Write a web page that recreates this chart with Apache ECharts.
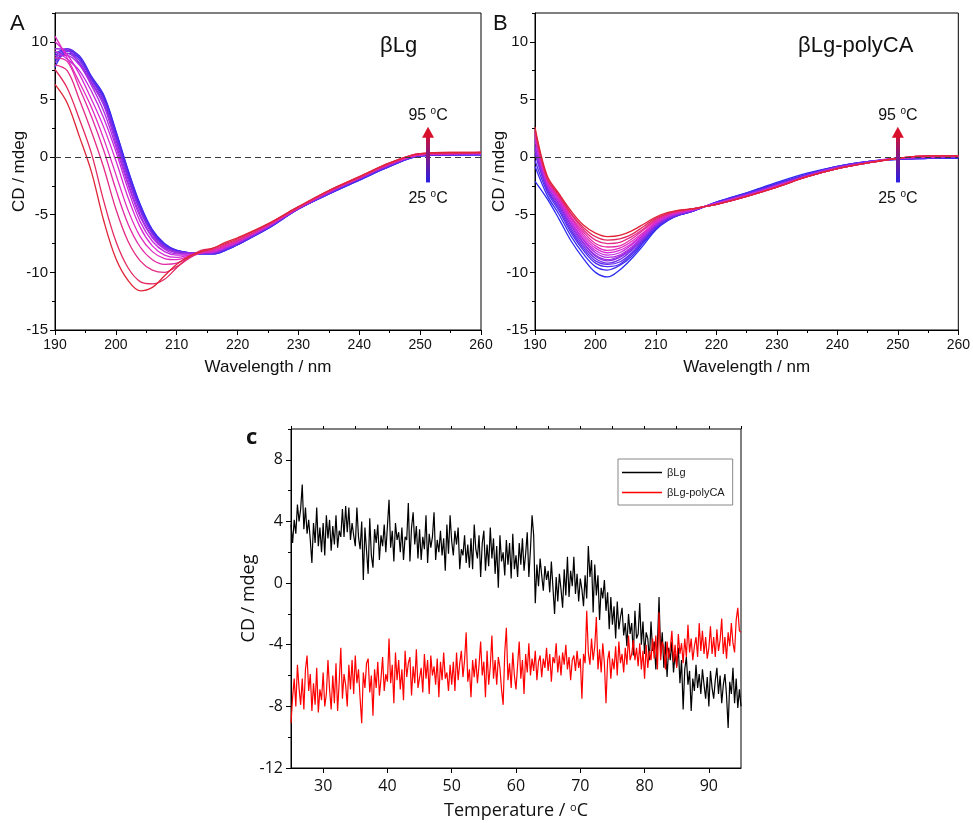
<!DOCTYPE html>
<html>
<head>
<meta charset="utf-8">
<script src="https://cdn.jsdelivr.net/npm/echarts@6/dist/echarts.min.js"></script>
<style>
html,body{margin:0;padding:0;background:#fff;}
#chart{width:973px;height:823px;}
</style>
</head>
<body>
<div id="chart"></div>
<script>
// ---------- DATA ----------
const wavelengths = [190,192,194,196,198,200,202,204,206,208,210,212,214,216,218,220,225,230,235,240,245,250,255,260];
const temps = [25,30,35,40,45,50,55,60,65,70,75,80,85,90,95];

// Panel A: βLg spectra, one row per temperature (25 -> 95 °C)
const cdA = [
  [8.4,9.0,8.6,6.8,5.3,2.2,-1.2,-4.2,-6.4,-7.6,-8.1,-8.3,-8.4,-8.4,-8.1,-7.6,-6.2,-4.5,-3.2,-2.0,-0.8,0.1,0.2,0.2],
  [7.8,9.2,8.8,7.0,5.4,2.3,-1.1,-4.1,-6.3,-7.5,-8.1,-8.3,-8.4,-8.4,-8.1,-7.6,-6.2,-4.5,-3.2,-2.0,-0.8,0.1,0.2,0.2],
  [8.8,9.3,8.6,6.9,5.2,2.1,-1.3,-4.3,-6.4,-7.6,-8.1,-8.3,-8.4,-8.4,-8.0,-7.6,-6.1,-4.5,-3.2,-1.9,-0.8,0.1,0.2,0.2],
  [9.0,9.4,8.7,6.8,5.1,1.9,-1.5,-4.4,-6.5,-7.7,-8.2,-8.3,-8.3,-8.3,-8.0,-7.5,-6.1,-4.5,-3.1,-1.9,-0.7,0.1,0.2,0.3],
  [8.6,9.2,8.4,6.7,4.9,1.7,-1.7,-4.6,-6.6,-7.7,-8.2,-8.3,-8.3,-8.3,-8.0,-7.5,-6.1,-4.5,-3.1,-1.9,-0.7,0.2,0.2,0.3],
  [8.2,9.0,8.2,6.5,4.7,1.5,-1.9,-4.7,-6.7,-7.8,-8.2,-8.3,-8.3,-8.3,-7.9,-7.5,-6.1,-4.4,-3.1,-1.9,-0.7,0.2,0.3,0.3],
  [9.4,9.3,8.1,6.4,4.5,1.2,-2.2,-5.0,-6.9,-7.9,-8.3,-8.4,-8.3,-8.3,-7.9,-7.4,-6.0,-4.4,-3.1,-1.8,-0.7,0.2,0.3,0.3],
  [8.8,8.8,8.0,6.2,4.0,0.9,-2.4,-5.2,-7.0,-8.0,-8.4,-8.4,-8.3,-8.2,-7.9,-7.4,-6.0,-4.4,-3.0,-1.8,-0.6,0.2,0.3,0.3],
  [9.2,8.5,7.5,5.7,3.4,0.5,-2.8,-5.6,-7.3,-8.2,-8.5,-8.5,-8.3,-8.2,-7.8,-7.4,-6.0,-4.4,-3.0,-1.8,-0.6,0.2,0.3,0.3],
  [10.0,8.9,7.2,5.0,2.6,-0.3,-3.5,-6.1,-7.7,-8.5,-8.7,-8.5,-8.3,-8.2,-7.8,-7.3,-6.0,-4.4,-3.0,-1.8,-0.6,0.2,0.3,0.3],
  [10.5,8.6,6.5,4.3,1.6,-1.5,-4.6,-6.9,-8.2,-8.8,-8.9,-8.6,-8.3,-8.1,-7.7,-7.3,-5.9,-4.4,-3.0,-1.8,-0.6,0.2,0.3,0.4],
  [8.6,8.3,6.0,3.5,0.6,-2.8,-5.8,-7.8,-8.9,-9.3,-9.2,-8.7,-8.3,-8.1,-7.7,-7.3,-5.9,-4.4,-3.0,-1.8,-0.6,0.2,0.3,0.4],
  [8.0,7.5,5.0,2.2,-0.9,-4.5,-7.3,-9.0,-9.8,-10.0,-9.5,-8.8,-8.2,-8.0,-7.6,-7.2,-5.9,-4.4,-3.0,-1.8,-0.6,0.3,0.3,0.4],
  [7.6,6.0,3.3,0.3,-3.8,-7.3,-9.6,-10.8,-11.0,-10.6,-9.6,-8.7,-8.1,-7.9,-7.5,-7.1,-5.8,-4.3,-2.9,-1.7,-0.5,0.3,0.4,0.4],
  [6.3,4.7,1.8,-1.3,-5.5,-8.8,-10.7,-11.6,-11.3,-10.3,-9.3,-8.6,-8.2,-7.9,-7.4,-7.0,-5.8,-4.3,-2.9,-1.7,-0.5,0.3,0.4,0.4]
];

// Panel B: βLg-polyCA spectra, one row per temperature (25 -> 95 °C)
const cdB = [
  [-2.1,-3.6,-5.4,-7.3,-8.8,-10.0,-10.4,-9.8,-8.8,-7.6,-6.3,-5.5,-5.0,-4.7,-4.3,-3.9,-3.1,-2.2,-1.4,-0.8,-0.4,-0.2,-0.1,-0.1],
  [-0.8,-3.3,-5.0,-6.9,-8.4,-9.5,-9.8,-9.4,-8.6,-7.4,-6.2,-5.4,-5.0,-4.7,-4.3,-3.9,-3.1,-2.3,-1.5,-0.8,-0.4,-0.2,-0.1,-0.1],
  [-0.3,-3.0,-4.7,-6.6,-8.1,-9.2,-9.5,-9.3,-8.4,-7.3,-6.1,-5.4,-5.0,-4.7,-4.3,-3.9,-3.2,-2.3,-1.5,-0.8,-0.4,-0.2,-0.1,0.0],
  [0.3,-2.8,-4.5,-6.4,-7.9,-9.0,-9.3,-9.1,-8.3,-7.2,-6.1,-5.4,-5.0,-4.7,-4.3,-4.0,-3.2,-2.4,-1.5,-0.9,-0.4,-0.2,-0.1,0.0],
  [0.6,-2.7,-4.3,-6.2,-7.7,-8.8,-9.2,-8.9,-8.1,-7.1,-6.0,-5.3,-4.9,-4.7,-4.3,-4.0,-3.2,-2.4,-1.6,-0.9,-0.4,-0.1,0.0,0.0],
  [1.0,-2.5,-4.1,-6.0,-7.5,-8.6,-9.0,-8.7,-8.0,-7.0,-5.9,-5.3,-4.9,-4.6,-4.3,-4.0,-3.3,-2.4,-1.6,-0.9,-0.4,-0.1,0.0,0.0],
  [0.7,-2.5,-4.1,-5.9,-7.4,-8.5,-8.9,-8.6,-7.9,-6.9,-5.9,-5.2,-4.9,-4.6,-4.3,-4.0,-3.3,-2.5,-1.6,-0.9,-0.5,-0.1,0.0,0.0],
  [1.4,-2.3,-3.9,-5.7,-7.2,-8.3,-8.7,-8.5,-7.8,-6.8,-5.8,-5.2,-4.8,-4.6,-4.3,-4.0,-3.3,-2.5,-1.6,-0.9,-0.5,-0.1,0.0,0.1],
  [1.6,-2.2,-3.8,-5.6,-7.1,-8.1,-8.5,-8.3,-7.6,-6.7,-5.7,-5.1,-4.8,-4.6,-4.3,-4.0,-3.3,-2.5,-1.7,-1.0,-0.5,-0.1,0.0,0.1],
  [1.9,-2.1,-3.7,-5.4,-6.9,-7.9,-8.3,-8.1,-7.5,-6.6,-5.7,-5.1,-4.8,-4.6,-4.3,-4.1,-3.4,-2.5,-1.7,-1.0,-0.5,-0.1,0.0,0.1],
  [2.0,-2.0,-3.6,-5.3,-6.7,-7.7,-8.1,-7.9,-7.3,-6.5,-5.6,-5.0,-4.7,-4.5,-4.3,-4.1,-3.4,-2.6,-1.7,-1.0,-0.5,-0.1,0.0,0.1],
  [2.2,-1.9,-3.5,-5.2,-6.5,-7.5,-7.8,-7.7,-7.1,-6.3,-5.5,-5.0,-4.7,-4.5,-4.3,-4.1,-3.4,-2.6,-1.7,-1.0,-0.5,-0.1,0.1,0.1],
  [2.3,-1.9,-3.4,-5.0,-6.3,-7.2,-7.5,-7.4,-6.9,-6.2,-5.4,-4.9,-4.7,-4.5,-4.3,-4.1,-3.4,-2.6,-1.7,-1.0,-0.5,-0.1,0.1,0.1],
  [2.4,-1.8,-3.3,-4.9,-6.1,-6.9,-7.2,-7.1,-6.7,-6.0,-5.3,-4.9,-4.6,-4.5,-4.3,-4.1,-3.4,-2.6,-1.7,-1.0,-0.5,-0.1,0.1,0.1],
  [2.6,-1.6,-3.2,-4.7,-5.9,-6.6,-6.9,-6.8,-6.4,-5.8,-5.2,-4.8,-4.6,-4.5,-4.3,-4.1,-3.4,-2.6,-1.7,-1.0,-0.5,-0.1,0.1,0.1]
];

// Panel C: CD signal vs temperature
const temperatureC = [
  25,25.25,25.5,25.75, 26,26.25,26.5,26.75, 27,27.25,27.5,27.75, 28,28.25,28.5,28.75, 29,29.25,29.5,29.75,
  30,30.25,30.5,30.75, 31,31.25,31.5,31.75, 32,32.25,32.5,32.75, 33,33.25,33.5,33.75, 34,34.25,34.5,34.75,
  35,35.25,35.5,35.75, 36,36.25,36.5,36.75, 37,37.25,37.5,37.75, 38,38.25,38.5,38.75, 39,39.25,39.5,39.75,
  40,40.25,40.5,40.75, 41,41.25,41.5,41.75, 42,42.25,42.5,42.75, 43,43.25,43.5,43.75, 44,44.25,44.5,44.75,
  45,45.25,45.5,45.75, 46,46.25,46.5,46.75, 47,47.25,47.5,47.75, 48,48.25,48.5,48.75, 49,49.25,49.5,49.75,
  50,50.25,50.5,50.75, 51,51.25,51.5,51.75, 52,52.25,52.5,52.75, 53,53.25,53.5,53.75, 54,54.25,54.5,54.75,
  55,55.25,55.5,55.75, 56,56.25,56.5,56.75, 57,57.25,57.5,57.75, 58,58.25,58.5,58.75, 59,59.25,59.5,59.75,
  60,60.25,60.5,60.75, 61,61.25,61.5,61.75, 62,62.25,62.5,62.75, 63,63.25,63.5,63.75, 64,64.25,64.5,64.75,
  65,65.25,65.5,65.75, 66,66.25,66.5,66.75, 67,67.25,67.5,67.75, 68,68.25,68.5,68.75, 69,69.25,69.5,69.75,
  70,70.25,70.5,70.75, 71,71.25,71.5,71.75, 72,72.25,72.5,72.75, 73,73.25,73.5,73.75, 74,74.25,74.5,74.75,
  75,75.25,75.5,75.75, 76,76.25,76.5,76.75, 77,77.25,77.5,77.75, 78,78.25,78.5,78.75, 79,79.25,79.5,79.75,
  80,80.25,80.5,80.75, 81,81.25,81.5,81.75, 82,82.25,82.5,82.75, 83,83.25,83.5,83.75, 84,84.25,84.5,84.75,
  85,85.25,85.5,85.75, 86,86.25,86.5,86.75, 87,87.25,87.5,87.75, 88,88.25,88.5,88.75, 89,89.25,89.5,89.75,
  90,90.25,90.5,90.75, 91,91.25,91.5,91.75, 92,92.25,92.5,92.75, 93,93.25,93.5,93.75, 94,94.25,94.5,94.75,
  95
];
const cdBLg = [
  3.8,2.6,4.1,3.2, 5.1,4.0,4.8,6.4, 3.5,4.9,3.2,4.1, 2.8,1.3,3.9,2.6, 4.9,2.4,3.6,2.0,
  3.9,1.8,4.4,2.9, 4.1,2.1,3.7,2.5, 4.4,2.3,3.4,3.0, 4.8,3.0,5.0,3.3, 4.9,2.8,3.9,3.1,
  2.4,4.9,3.0,2.2, 4.0,0.2,3.6,2.1, 0.6,4.2,1.8,1.0, 3.5,2.6,3.8,1.5, 3.1,2.4,3.8,2.0,
  2.1,5.4,2.3,3.4, 1.4,3.9,2.8,3.3, 2.0,3.6,1.5,3.0, 2.8,5.2,1.4,3.6, 4.6,2.5,3.7,1.6,
  3.5,1.5,3.0,2.2, 4.4,1.3,3.2,2.3, 3.0,4.6,1.5,2.8, 2.0,3.4,1.8,2.9, 0.8,3.8,1.9,4.4,
  2.7,1.8,3.4,2.5, 3.6,0.9,2.2,1.8, 3.1,1.3,2.5,1.0, 2.9,0.9,3.8,2.2, 1.6,3.1,0.4,2.6,
  3.4,0.8,2.5,1.1, 3.6,1.6,2.9,0.6, 2.4,-0.3,3.1,1.4, 2.0,0.5,2.8,1.2, 2.6,0.3,3.2,0.9,
  1.8,0.4,2.6,1.2, 2.9,0.8,1.9,3.3, 0.4,2.2,4.4,3.1, -1.3,1.2,-0.2,1.6, 0.5,-0.5,1.1,0.2,
  0.8,-0.6,1.4,-0.3, -2.0,0.4,-1.2,0.6, -0.4,-1.6,0.9,-0.8, 1.7,-0.9,0.8,-0.2, 1.7,-0.7,0.6,-1.2,
  0.3,-0.4,-1.5,0.5, -1.0,2.4,0.4,1.5, -1.9,1.2,-0.8,0.5, -2.4,-0.3,-1.0,0.2, -1.8,-0.6,-3.0,-0.9,
  -2.7,-1.5,-3.6,-1.2, -3.0,-2.2,-1.6,-3.4, -2.6,-4.1,-2.0,-3.3, -2.6,-4.7,-1.8,-3.6, -3.3,-1.3,-4.0,-2.5,
  -4.6,-3.2,-3.6,-5.0, -2.5,-4.4,-3.8,-5.6, -4.0,-0.9,-4.6,-3.2, -5.5,-3.8,-6.1,-4.2, -5.0,-3.8,-5.8,-4.6,
  -5.4,-4.2,-6.5,-5.0, -8.2,-5.6,-4.8,-6.6, -5.7,-8.3,-6.2,-7.0, -5.3,-6.8,-5.9,-7.2, -5.6,-6.6,-7.5,-6.1,
  -8.0,-5.7,-6.8,-7.5, -6.3,-5.5,-7.2,-6.0, -7.8,-6.6,-5.9,-7.3, -9.4,-6.4,-7.2,-5.5, -7.8,-6.2,-8.1,-6.9,
  -8.0
];
const cdBLgPolyCA = [
  -9.1,-7.4,-6.2,-8.0, -5.3,-6.8,-7.9,-6.2, -8.2,-5.6,-4.7,-7.0, -5.9,-8.3,-6.5,-7.9, -5.5,-8.4,-6.9,-7.6,
  -5.8,-8.0,-7.2,-5.0, -6.9,-8.2,-6.0,-7.8, -5.2,-8.3,-6.4,-4.2, -7.5,-5.9,-6.6,-8.0, -5.3,-6.9,-5.0,-7.2,
  -4.7,-6.5,-5.6,-7.5, -9.1,-5.8,-6.8,-5.2, -4.9,-7.1,-6.0,-8.6, -5.6,-6.8,-5.1,-7.3, -6.2,-4.8,-7.0,-5.9,
  -6.4,-3.6,-6.5,-5.3, -7.8,-4.5,-6.3,-5.0, -6.9,-5.6,-7.6,-4.4, -6.1,-5.2,-4.8,-7.3, -5.4,-6.5,-4.3,-6.8,
  -6.9,-5.5,-7.1,-4.6, -6.2,-5.0,-7.2,-4.7, -6.0,-5.4,-6.6,-4.9, -7.4,-5.1,-6.3,-4.5, -6.2,-5.8,-7.0,-5.3,
  -6.6,-5.1,-7.0,-4.5, -6.3,-5.2,-4.4,-6.1, -5.0,-3.2,-6.4,-5.6, -7.4,-5.0,-6.1,-4.9, -6.5,-5.3,-3.8,-6.0,
  -5.1,-7.4,-4.4,-6.6, -5.4,-3.4,-6.2,-5.0, -6.6,-4.8,-5.5,-6.9, -7.9,-4.5,-2.9,-6.3, -5.2,-6.8,-4.5,-6.0,
  -6.9,-5.3,-3.8,-6.2, -5.0,-7.2,-4.6,-5.8, -3.9,-6.0,-4.9,-5.7, -4.4,-6.3,-5.1,-4.7, -6.1,-4.9,-5.5,-4.2,
  -5.7,-4.6,-6.4,-4.8, -5.2,-3.9,-5.8,-4.7, -6.0,-4.5,-5.3,-4.0, -5.6,-4.8,-6.3,-5.0, -4.7,-5.7,-4.4,-5.5,
  -4.9,-7.5,-4.6,-5.2, -1.8,-4.5,-5.3,-3.6, -5.0,-4.1,-2.2,-5.6, -4.3,-5.8,-3.9,-5.2, -7.8,-5.0,-4.4,-6.2,
  -4.9,-5.6,-4.1,-6.0, -3.8,-5.2,-4.6,-5.8, -4.2,-5.3,-3.4,-5.0, -4.6,-3.7,-5.0,-4.2, -5.4,-3.9,-5.6,-4.4,
  -6.2,-4.0,-5.5,-4.4, -5.0,-3.6,-4.9,-3.4, -5.6,-1.9,-5.0,-3.8, -4.2,-5.6,-3.8,-4.9, -4.2,-3.1,-5.1,-4.0,
  -5.5,-3.3,-4.6,-3.9, -5.2,-3.6,-4.8,-2.7, -4.5,-3.6,-5.0,-4.1, -3.5,-4.8,-2.6,-4.4, -3.1,-4.6,-3.5,-4.9,
  -4.2,-2.8,-4.6,-3.5, -4.8,-3.0,-4.4,-3.7, -2.3,-4.6,-3.5,-4.9, -3.2,-4.1,-2.6,-3.9, -4.5,-2.4,-1.6,-3.1,
  -3.2
];

const wlTicks = [190,200,210,220,230,240,250,260];
const cdTicksAB = [-15,-10,-5,0,5,10];
const tempTicks = [30,40,50,60,70,80,90];
const cdTicksC = [-12,-8,-4,0,4,8];

// ---------- STYLE ----------
const curveColors = ['#2b2bf2','#3a2bf0','#4c2bee','#5f2bec','#722bea','#862be6','#9a2be3','#ae2ae0','#c42adc','#d82ad4','#e02ac0','#e22aa6','#e32a86','#e22a60','#df2436'];
const FONT_AB = 'Liberation Sans';
const FONT_C = 'Open Sans';

const chart = echarts.init(document.getElementById('chart'), null, {renderer:'canvas'});

function pairs(xs, ys){ return xs.map((x,i)=>[x, ys[i]]); }

function wlAxis(gi){
  return {
    type:'value', gridIndex:gi, min:190, max:260, interval:10,
    axisLine:{show:true, onZero:false, lineStyle:{color:'#000', width:1}},
    axisTick:{show:true, length:5, lineStyle:{color:'#000', width:1}},
    minorTick:{show:true, splitNumber:2, length:3, lineStyle:{color:'#000', width:1}},
    axisLabel:{color:'#111', fontSize:14, fontFamily:FONT_AB, margin:8, customValues:wlTicks},
    splitLine:{show:false}, minorSplitLine:{show:false},
    name:'Wavelength / nm', nameLocation:'middle', nameGap:29, nameMoveOverlap:false,
    nameTextStyle:{fontSize:17, color:'#111', fontFamily:FONT_AB}
  };
}
function cdAxisMain(gi){
  return {
    type:'value', gridIndex:gi, position:'left', min:-15, max:12.5, interval:5,
    axisLine:{show:true, onZero:false, lineStyle:{color:'#000', width:1}},
    axisTick:{show:true, length:5, customValues:cdTicksAB, lineStyle:{color:'#000', width:1}},
    axisLabel:{color:'#111', fontSize:15, fontFamily:FONT_AB, margin:7, customValues:cdTicksAB},
    splitLine:{show:false},
    name:'CD / mdeg', nameLocation:'middle', nameGap:27, nameMoveOverlap:false,
    nameTextStyle:{fontSize:17, color:'#111', fontFamily:FONT_AB}
  };
}
function cdAxisMinor(gi){
  return {
    type:'value', gridIndex:gi, position:'left', offset:0, min:-15, max:12.5, interval:2.5,
    axisLine:{show:false, onZero:false}, axisLabel:{show:false}, splitLine:{show:false},
    axisTick:{show:true, length:3, lineStyle:{color:'#000', width:1}}
  };
}

const series = [];
function addPanel(rows, xi, yi, arrowX){
  rows.forEach((row, k) => {
    const s = {
      type:'line', name:'T'+temps[k]+(xi===0?'A':'B'), xAxisIndex:xi, yAxisIndex:yi,
      data: pairs(wavelengths, row), symbol:'none', showSymbol:false, smooth:0.35,
      lineStyle:{color:curveColors[k], width:1.3}, itemStyle:{color:curveColors[k]},
      silent:true, z:2+k
    };
    if (k === 0) {
      s.markLine = {
        silent:true, symbol:['none','none'], label:{show:false},
        data:[
          {yAxis:0, lineStyle:{type:[6,4], color:'#3a3a3a', width:1.2}},
          [
            {coord:[arrowX,-2.2], lineStyle:{width:4, type:'solid', cap:'butt',
              color:new echarts.graphic.LinearGradient(0,0,0,1,[{offset:0,color:'#d8102c'},{offset:1,color:'#2020ee'}])}},
            {coord:[arrowX,1.9]}
          ]
        ],
        z:30
      };
      s.markPoint = {
        silent:true,
        data:[
          {coord:[arrowX,2.15], symbol:'triangle', symbolSize:[12,11], itemStyle:{color:'#d8102c'}, label:{show:false}},
          {coord:[arrowX,3.6], symbol:'circle', symbolSize:0,
            label:{show:true, position:'inside', formatter:'{a|95 }{s|o}{a|C}',
              rich:{a:{fontSize:16, fontFamily:FONT_AB, color:'#111', lineHeight:18},
                    s:{fontSize:10, fontFamily:FONT_AB, color:'#111', verticalAlign:'top', lineHeight:10}}}},
          {coord:[arrowX,-3.6], symbol:'circle', symbolSize:0,
            label:{show:true, position:'inside', formatter:'{a|25 }{s|o}{a|C}',
              rich:{a:{fontSize:16, fontFamily:FONT_AB, color:'#111', lineHeight:18},
                    s:{fontSize:10, fontFamily:FONT_AB, color:'#111', verticalAlign:'top', lineHeight:10}}}}
        ],
        z:31
      };
    }
    series.push(s);
  });
}
addPanel(cdA, 0, 0, 251.3);
addPanel(cdB, 1, 2, 250);

series.push({
  type:'line', name:'βLg', xAxisIndex:2, yAxisIndex:4,
  data: pairs(temperatureC, cdBLg), symbol:'none', showSymbol:false, smooth:false,
  lineStyle:{color:'#000', width:1.2}, itemStyle:{color:'#000'}, silent:true
});
series.push({
  type:'line', name:'βLg-polyCA', xAxisIndex:2, yAxisIndex:4,
  data: pairs(temperatureC, cdBLgPolyCA), symbol:'none', showSymbol:false, smooth:false,
  lineStyle:{color:'#f00', width:1.2}, itemStyle:{color:'#f00'}, silent:true
});

const option = {
  backgroundColor:'#fff',
  animation:false,
  grid:[
    {left:55, top:13, width:426, height:317, show:true, borderColor:'#000', borderWidth:1, backgroundColor:'transparent'},
    {left:535, top:13, width:426, height:317, show:true, borderColor:'#000', borderWidth:1, backgroundColor:'transparent'},
    {left:291, top:429, width:450, height:339, show:true, borderColor:'#000', borderWidth:1, backgroundColor:'transparent'}
  ],
  xAxis:[
    wlAxis(0),
    wlAxis(1),
    {
      type:'value', gridIndex:2, min:25, max:95, interval:5,
      axisLine:{show:true, onZero:false, lineStyle:{color:'#000', width:1}},
      axisTick:{show:true, length:5, customValues:tempTicks, lineStyle:{color:'#000'}},
      axisLabel:{color:'#111', fontSize:16, fontFamily:FONT_C, margin:10, customValues:tempTicks},
      splitLine:{show:false},
      name:'Temperature / {s|o}C', nameLocation:'middle', nameGap:34, nameMoveOverlap:false,
      nameTextStyle:{fontSize:18, color:'#111', fontFamily:FONT_C,
        rich:{s:{fontSize:11, fontFamily:FONT_C, color:'#111', verticalAlign:'top', lineHeight:10}}}
    },
    {
      type:'value', gridIndex:2, min:25, max:95, interval:5,
      axisLine:{show:false, onZero:false}, axisLabel:{show:false}, splitLine:{show:false},
      axisTick:{show:true, length:3, lineStyle:{color:'#000'}}
    }
  ],
  yAxis:[
    cdAxisMain(0), cdAxisMinor(0),
    cdAxisMain(1), cdAxisMinor(1),
    {
      type:'value', gridIndex:2, position:'left', min:-12, max:10, interval:2,
      axisLine:{show:true, onZero:false, lineStyle:{color:'#000', width:1}},
      axisTick:{show:true, length:5, customValues:cdTicksC, lineStyle:{color:'#000'}},
      axisLabel:{color:'#111', fontSize:16, fontFamily:FONT_C, margin:8, customValues:cdTicksC},
      splitLine:{show:false},
      name:'CD / mdeg', nameLocation:'middle', nameGap:33, nameMoveOverlap:false,
      nameTextStyle:{fontSize:18, color:'#111', fontFamily:FONT_C}
    },
    {
      type:'value', gridIndex:2, position:'left', offset:0, min:-12, max:10, interval:2,
      axisLine:{show:false, onZero:false}, axisLabel:{show:false}, splitLine:{show:false},
      axisTick:{show:true, length:3, lineStyle:{color:'#000'}}
    }
  ],
  legend:{
    data:[{name:'βLg', icon:'rect'},{name:'βLg-polyCA', icon:'rect'}],
    orient:'vertical', left:618, top:459,
    itemWidth:40, itemHeight:1.5, itemGap:7,
    borderColor:'#888', borderWidth:1, padding:[7,8,6,4],
    textStyle:{fontSize:11, fontFamily:FONT_AB, color:'#222', lineHeight:13},
    backgroundColor:'#fff'
  },
  graphic:[
    {type:'text', left:10, top:13, style:{text:'A', fontSize:22, fontFamily:FONT_AB, fill:'#111'}},
    {type:'text', left:493, top:13, style:{text:'B', fontSize:22, fontFamily:FONT_AB, fill:'#111'}},
    {type:'text', left:380, top:35, style:{text:'βLg', fontSize:22, fontFamily:FONT_AB, fill:'#111'}},
    {type:'text', left:798, top:35, style:{text:'βLg-polyCA', fontSize:22, fontFamily:FONT_AB, fill:'#111'}},
    {type:'text', left:246, top:427, style:{text:'c', fontSize:22, fontWeight:'bold', fontFamily:FONT_C, fill:'#111'}}
  ],
  series: series
};
chart.setOption(option);
</script>
</body>
</html>
